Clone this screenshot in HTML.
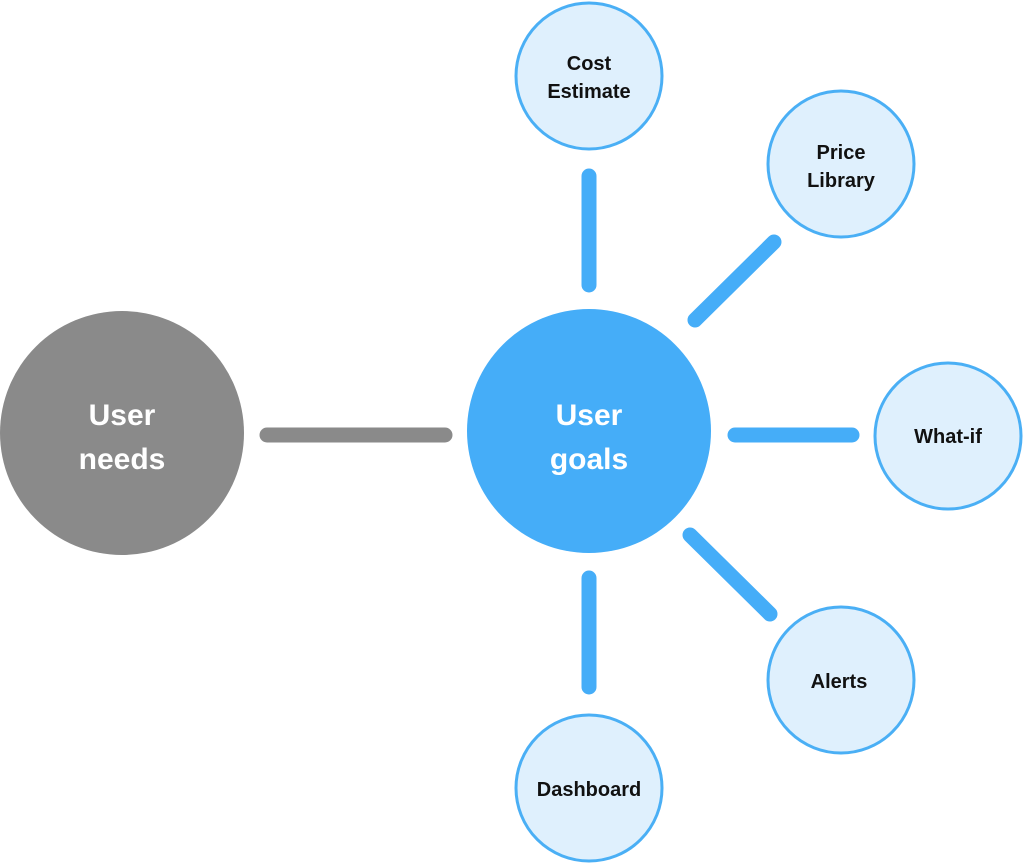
<!DOCTYPE html>
<html><head><style>html,body{margin:0;padding:0;background:#fff}svg{display:block}text{font-family:"Liberation Sans",sans-serif;font-weight:bold;text-anchor:middle}</style></head>
<body>
<svg width="1024" height="863" viewBox="0 0 1024 863">
<g stroke-linecap="round" fill="none">
<line x1="267" y1="435" x2="445" y2="435" stroke="#8a8a8a" stroke-width="15"/>
<g stroke="#45adf8" stroke-width="15">
<line x1="589" y1="176" x2="589" y2="285"/>
<line x1="695" y1="320" x2="774" y2="242"/>
<line x1="735" y1="435" x2="852" y2="435"/>
<line x1="690" y1="535" x2="770" y2="614"/>
<line x1="589" y1="578" x2="589" y2="687"/>
</g>
</g>
<circle cx="122" cy="433" r="122" fill="#8a8a8a"/>
<circle cx="589" cy="431" r="122" fill="#45adf8"/>
<g fill="#dff0fd" stroke="#4aaff5" stroke-width="3">
<circle cx="589" cy="76" r="73"/>
<circle cx="841" cy="164" r="73"/>
<circle cx="948" cy="436" r="73"/>
<circle cx="841" cy="680" r="73"/>
<circle cx="589" cy="788" r="73"/>
</g>
<g fill="#fff" font-size="30">
<text x="122" y="425">User</text><text x="122" y="469">needs</text>
<text x="589" y="425">User</text><text x="589" y="469">goals</text>
</g>
<g fill="#111" font-size="20">
<text x="589" y="70">Cost</text><text x="589" y="98">Estimate</text>
<text x="841" y="159">Price</text><text x="841" y="187">Library</text>
<text x="948" y="443">What-if</text>
<text x="839" y="688">Alerts</text>
<text x="589" y="796">Dashboard</text>
</g>
</svg>
</body></html>
